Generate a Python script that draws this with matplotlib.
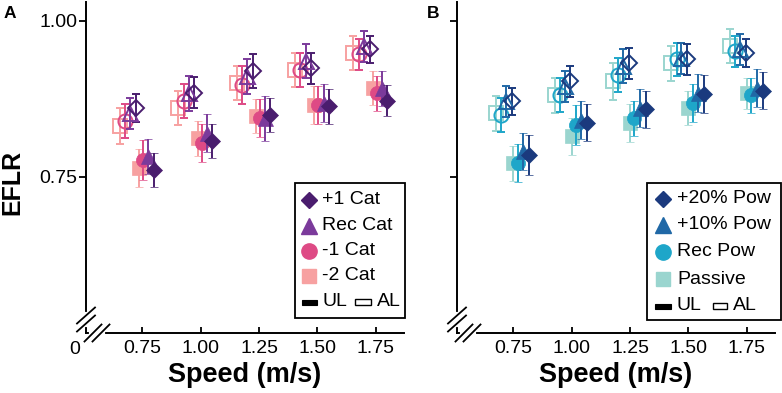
import matplotlib
matplotlib.use("Agg")
import matplotlib.pyplot as plt
from matplotlib.lines import Line2D
from matplotlib.patches import Rectangle

plt.rcParams['font.family'] = ['Liberation Sans', 'DejaVu Sans']

W, H = 782, 393

speeds = [0.75, 1.00, 1.25, 1.50, 1.75]
xtick_labels = ['0.75', '1.00', '1.25', '1.50', '1.75']

# panel A - catapult stiffness (UL = unloaded, AL = added load)
cat_names = ['+1 Cat', 'Rec Cat', '-1 Cat', '-2 Cat']
cat_ul = {
    '+1 Cat': [0.761, 0.807, 0.849, 0.863, 0.872],
    'Rec Cat': [0.783, 0.820, 0.844, 0.868, 0.892],
    '-1 Cat': [0.777, 0.804, 0.844, 0.865, 0.884],
    '-2 Cat': [0.764, 0.812, 0.847, 0.865, 0.892],
}
cat_ul_err = {
    '+1 Cat': [0.027, 0.027, 0.027, 0.028, 0.025],
    'Rec Cat': [0.028, 0.030, 0.036, 0.030, 0.028],
    '-1 Cat': [0.032, 0.030, 0.030, 0.030, 0.028],
    '-2 Cat': [0.030, 0.028, 0.027, 0.030, 0.027],
}
cat_al = {
    '+1 Cat': [0.860, 0.885, 0.919, 0.924, 0.954],
    'Rec Cat': [0.852, 0.884, 0.911, 0.935, 0.959],
    '-1 Cat': [0.839, 0.871, 0.897, 0.921, 0.946],
    '-2 Cat': [0.831, 0.860, 0.900, 0.921, 0.948],
}
cat_al_err = {
    '+1 Cat': [0.022, 0.025, 0.027, 0.025, 0.022],
    'Rec Cat': [0.025, 0.028, 0.028, 0.027, 0.025],
    '-1 Cat': [0.027, 0.027, 0.030, 0.027, 0.025],
    '-2 Cat': [0.029, 0.027, 0.027, 0.027, 0.027],
}

# panel B - powered assistance
pow_names = ['+20% Pow', '+10% Pow', 'Rec Pow', 'Passive']
pow_ul = {
    '+20% Pow': [0.785, 0.837, 0.858, 0.883, 0.888],
    '+10% Pow': [0.791, 0.841, 0.860, 0.884, 0.892],
    'Rec Pow': [0.772, 0.833, 0.844, 0.868, 0.881],
    'Passive': [0.772, 0.815, 0.836, 0.860, 0.884],
}
pow_ul_err = {
    '+20% Pow': [0.032, 0.030, 0.030, 0.030, 0.030],
    '+10% Pow': [0.030, 0.030, 0.030, 0.030, 0.030],
    'Rec Pow': [0.030, 0.032, 0.028, 0.030, 0.028],
    'Passive': [0.028, 0.030, 0.030, 0.027, 0.025],
}
pow_al = {
    '+20% Pow': [0.871, 0.903, 0.932, 0.938, 0.948],
    '+10% Pow': [0.871, 0.895, 0.927, 0.940, 0.954],
    'Rec Pow': [0.849, 0.881, 0.913, 0.938, 0.951],
    'Passive': [0.852, 0.881, 0.903, 0.932, 0.959],
}
pow_al_err = {
    '+20% Pow': [0.022, 0.025, 0.025, 0.025, 0.022],
    '+10% Pow': [0.025, 0.025, 0.027, 0.025, 0.025],
    'Rec Pow': [0.027, 0.027, 0.027, 0.027, 0.025],
    'Passive': [0.028, 0.028, 0.030, 0.028, 0.027],
}

cat_colors = {'+1 Cat': '#4a1d6e', 'Rec Cat': '#7b3a9b', '-1 Cat': '#de4a85', '-2 Cat': '#f7a1a1'}
pow_colors = {'+20% Pow': '#1b3a7e', '+10% Pow': '#2068a6', 'Rec Pow': '#1ea6c9', 'Passive': '#9ad5cf'}
markers = ['D', '^', 'o', 's']
msizes = {'D': 8.4, '^': 10.8, 'o': 10.2, 's': 9.4}

# horizontal dodge for each condition (draw order: square, circle, triangle, diamond)
dodge_a = {'ul': [0.049, 0.026, 0.004, -0.013], 'al': [-0.026, -0.051, -0.073, -0.096]}
dodge_b = {'ul': [0.068, 0.041, 0.019, 0.0], 'al': [-0.006, -0.030, -0.051, -0.073]}

fig = plt.figure(figsize=(W / 100, H / 100), dpi=100)
ax_a = fig.add_axes([86 / W, 1 - 333 / H, 318 / W, 331 / H])
ax_b = fig.add_axes([457 / W, 1 - 333 / H, 318 / W, 331 / H])


def draw_panel(ax, names, ul, ul_err, al, al_err, colors, dodge):
    for i in reversed(range(4)):
        name = names[i]
        m = markers[i]
        c = colors[name]
        xs = [s + dodge['al'][i] for s in speeds]
        ax.errorbar(xs, al[name], yerr=al_err[name], fmt=m, ms=msizes[m], mfc='none',
                    mec=c, mew=1.4, ecolor=c, elinewidth=1.4, capsize=2.6, capthick=1.4,
                    zorder=3 + (3 - i) * 0.1)
    for i in reversed(range(4)):
        name = names[i]
        m = markers[i]
        c = colors[name]
        xs = [s + dodge['ul'][i] for s in speeds]
        ax.errorbar(xs, ul[name], yerr=ul_err[name], fmt=m, ms=msizes[m], mfc=c,
                    mec=c, mew=0.5, ecolor=c, elinewidth=1.4, capsize=2.6, capthick=1.4,
                    zorder=4 + (3 - i) * 0.1)
    ax.set_xlim(0.51, 1.87)
    ax.set_ylim(0.5, 1.03)
    ax.set_xticks(speeds)
    ax.set_xticklabels(xtick_labels)
    ax.set_yticks([0.75, 1.00])
    ax.set_yticklabels(['0.75', '1.00'])
    for s in ['top', 'right']:
        ax.spines[s].set_visible(False)
    for s in ['left', 'bottom']:
        ax.spines[s].set_linewidth(1.4)
    ax.tick_params(axis='x', direction='in', length=4, width=1.3, labelsize=14, pad=5)
    ax.tick_params(axis='y', direction='out', length=5, width=1.3, labelsize=14, pad=1)
    ax.set_xlabel('Speed (m/s)', fontsize=19.5, fontweight='bold')
    ax.xaxis.set_label_coords(0.5, -0.088)


draw_panel(ax_a, cat_names, cat_ul, cat_ul_err, cat_al, cat_al_err, cat_colors, dodge_a)
draw_panel(ax_b, pow_names, pow_ul, pow_ul_err, pow_al, pow_al_err, pow_colors, dodge_b)
ax_b.set_yticklabels([])
ax_a.set_ylabel('EFLR', fontsize=18, fontweight='bold', va='center')
ax_a.yaxis.set_label_coords(-0.233, 0.455)

tf = fig.transFigure


def px(x, y):
    return x / W, 1 - y / H


def fline(xs, ys, **kw):
    fx = [x / W for x in xs]
    fy = [1 - y / H for y in ys]
    fig.add_artist(Line2D(fx, fy, transform=tf, **kw))


def axis_breaks(x0, y0):
    # cut the spines, then the double slashes
    fline([x0, x0], [y0 - 19, y0 - 8], color='white', lw=3, zorder=10)
    fline([x0 + 5, x0 + 17], [y0, y0], color='white', lw=3, zorder=10)
    for cy in (y0 - 17.5, y0 - 9.5):
        fline([x0 - 9, x0 + 9], [cy + 8, cy - 8], color='black', lw=1.3, zorder=11)
    for cx in (x0 + 7, x0 + 15):
        fline([cx - 8.5, cx + 8.5], [y0 + 8.5, y0 - 8.5], color='black', lw=1.3, zorder=11)


axis_breaks(86, 333)
axis_breaks(457, 333)
fig.text(*px(75, 349), '0', fontsize=14, ha='center', va='center')

fig.text(*px(10, 13), 'A', fontsize=12.5, fontweight='bold', ha='center', va='center')
fig.text(*px(433, 13), 'B', fontsize=12.5, fontweight='bold', ha='center', va='center')


def draw_legend(box, mx, tx, rows, names, colors, ul_rect, ul_tx, al_rect, al_tx, ulal_y):
    x0, y0, x1, y1 = box
    fig.add_artist(Rectangle(px(x0, y1), (x1 - x0) / W, (y1 - y0) / H, transform=tf,
                             fill=True, fc='white', ec='black', lw=1.3, zorder=12))
    lsizes = {'D': 8.0, '^': 12.0, 'o': 11.0, 's': 9.5}
    for name, m, ry in zip(names, markers, rows):
        fx, fy = px(mx, ry)
        fig.add_artist(Line2D([fx], [fy], marker=m, ms=lsizes[m], color=colors[name],
                              ls='none', transform=tf, zorder=13))
        fig.text(fx + (tx - mx) / W, fy, name, fontsize=14, ha='left', va='center', zorder=13)
    fig.add_artist(Rectangle(px(ul_rect[0], ulal_y + 2.5), (ul_rect[1] - ul_rect[0]) / W, 5 / H,
                             transform=tf, fc='black', ec='black', lw=0.8, zorder=13))
    fig.text(*px(ul_tx, ulal_y), 'UL', fontsize=14, ha='left', va='center', zorder=13)
    fig.add_artist(Rectangle(px(al_rect[0], ulal_y + 3), (al_rect[1] - al_rect[0]) / W, 6 / H,
                             transform=tf, fc='white', ec='black', lw=1.0, zorder=13))
    fig.text(*px(al_tx, ulal_y), 'AL', fontsize=14, ha='left', va='center', zorder=13)


draw_legend((295, 183, 405, 318), 309, 322, [200, 225.5, 250.7, 275.5], cat_names, cat_colors,
            (302, 317), 323, (355, 371), 377, 302)
draw_legend((647, 183, 781, 320), 663, 677, [198.5, 225, 251.7, 279], pow_names, pow_colors,
            (655, 671), 677, (713, 727), 733, 306)

fig.savefig('out.png', dpi=100)
